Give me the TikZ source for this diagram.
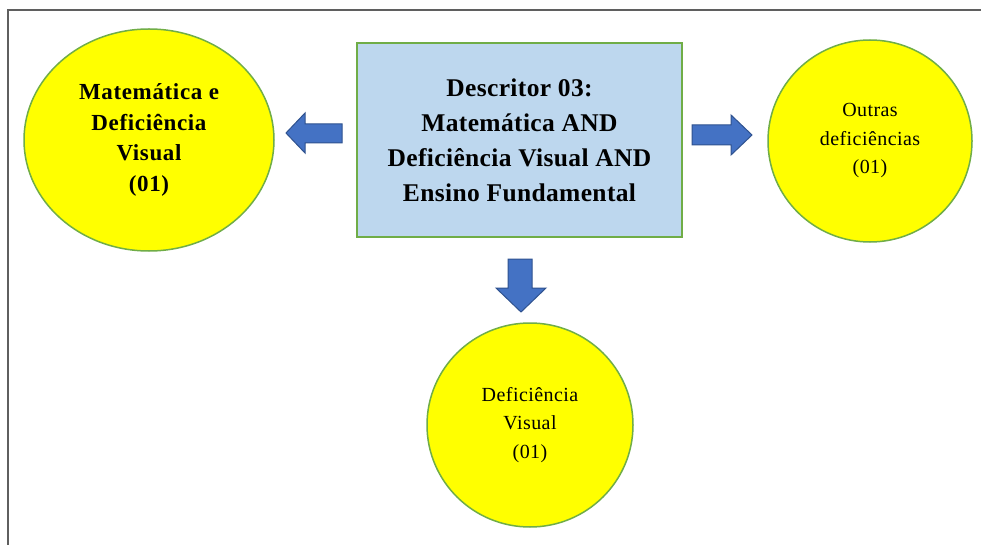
\documentclass[tikz,border=0pt]{standalone}
\usepackage{fontspec}
\setmainfont{Liberation Serif}
\usetikzlibrary{shapes.geometric}
\definecolor{frameGray}{HTML}{5F5F5F}
\definecolor{leafYellow}{HTML}{FFFF00}
\definecolor{leafGreen}{HTML}{70AD47}
\definecolor{boxBlue}{HTML}{BDD7EE}
\definecolor{arrowBlue}{HTML}{4472C4}
\definecolor{arrowEdge}{HTML}{2F528F}
\tikzset{
  leaf/.style={ellipse, draw=leafGreen, line width=1.5pt, fill=leafYellow,
    inner sep=0pt, align=center, text=black},
  leafbig/.style={leaf, font=\bfseries\fontsize{23}{30.5}\selectfont\addfontfeature{LetterSpace=2.8}},
  leafsmall/.style={leaf, font=\fontsize{20}{28.5}\selectfont\addfontfeature{LetterSpace=2.2}},
  mainbox/.style={rectangle, draw=leafGreen, line width=2pt, fill=boxBlue,
    inner sep=0pt, align=center, text=black,
    font=\bfseries\fontsize{25.5}{35}\selectfont\addfontfeature{LetterSpace=1.4}},
  blockarrow/.style={fill=arrowBlue, draw=arrowEdge, line width=1pt, line join=miter},
  frameline/.style={draw=frameGray, line width=2pt}
}
\begin{document}
\begin{tikzpicture}[x=1pt,y=-1pt]
  \useasboundingbox (0,0) rectangle (981,545);
  \fill[white] (0,0) rectangle (981,545);
  % open frame: left and top edges only
  \draw[frameline] (8,545) -- (8,10) -- (981,10);

  % central descriptor box
  \node[mainbox, minimum width=325pt, minimum height=194pt] (desc) at (519.5,140)
    {Descritor 03:\\Matemática AND\\Deficiência Visual AND\\Ensino Fundamental};

  % result circles
  \node[leafbig, minimum width=250pt, minimum height=222pt] (matvis) at (149,140)
    {Matemática e\\Deficiência\\Visual\\(01)};
  \node[leafsmall, minimum width=204pt, minimum height=202pt] (outras) at (870,141)
    {Outras\\deficiências\\(01)};
  \node[leafsmall, minimum width=206pt, minimum height=204pt] (defvis) at (530,425)
    {Deficiência\\Visual\\(01)};

  % block arrows from the box towards each circle
  \draw[blockarrow] (342,124) -- (305,124) -- (305,113) -- (286,133)
    -- (305,153) -- (305,143) -- (342,143) -- cycle;
  \draw[blockarrow] (692,125) -- (731,125) -- (731,115) -- (752,135)
    -- (731,155) -- (731,145) -- (692,145) -- cycle;
  \draw[blockarrow] (508,259) -- (532,259) -- (532,288) -- (546,288)
    -- (521,312) -- (496,288) -- (508,288) -- cycle;
\end{tikzpicture}
\end{document}
